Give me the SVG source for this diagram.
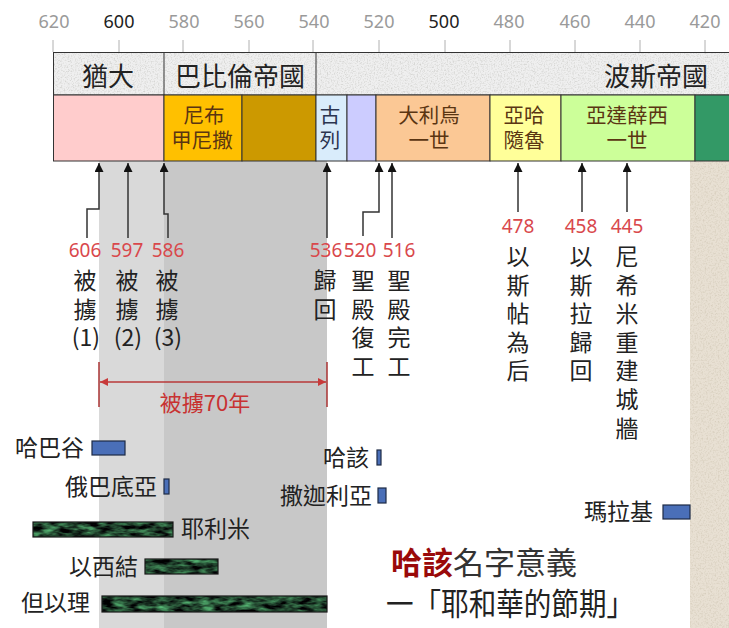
<svg xmlns="http://www.w3.org/2000/svg" width="729" height="628" viewBox="0 0 729 628">
<style>
text{font-family:'Noto Sans CJK TC','Noto Sans',sans-serif;}
.ax{font-family:'Noto Sans',sans-serif;font-size:18px;fill:#9a9a9a;text-anchor:middle;}
.axb{fill:#222;}
.tick{stroke:#b0b0b0;stroke-width:1;}
.h1{font-size:26px;fill:#222;}
.cell{stroke:#333;stroke-width:1;}
.ct{font-size:20.5px;fill:#5a3512;text-anchor:middle;}
.yr{font-family:'Noto Sans',sans-serif;font-size:19px;fill:#d9484c;text-anchor:middle;}
.vt{font-size:23px;fill:#222;text-anchor:middle;}
.lbl{font-size:23px;fill:#222;}
.ln{fill:none;stroke:#333;stroke-width:1.5;}
.blue{fill:#4a6fb8;stroke:#1d2a45;stroke-width:1.2;}
.gbar{stroke:#1a1a1a;stroke-width:1.2;}
</style>
<defs>
<marker id="ah" viewBox="0 0 10 10" refX="10" refY="5" markerUnits="userSpaceOnUse" markerWidth="9" markerHeight="9" orient="auto">
<path d="M0,0 L10,5 L0,10 z" fill="#111"/>
</marker>
<marker id="rh" viewBox="0 0 10 10" refX="10" refY="5" markerUnits="userSpaceOnUse" markerWidth="9" markerHeight="8" orient="auto-start-reverse">
<path d="M0,0 L10,5 L0,10 z" fill="#c83a3a"/>
</marker>
<filter id="speck" x="0" y="0" width="100%" height="100%" color-interpolation-filters="sRGB">
<feTurbulence type="fractalNoise" baseFrequency="0.7" numOctaves="2" seed="4" result="n"/>
<feColorMatrix in="n" type="matrix" values="0 0 0 0 0.72  0 0 0 0 0.72  0 0 0 0 0.70  1.3 0 0 0 -0.6" result="s"/>
<feComposite in="s" in2="SourceGraphic" operator="in" result="s2"/>
<feMerge><feMergeNode in="SourceGraphic"/><feMergeNode in="s2"/></feMerge>
</filter>
<filter id="speckb" x="0" y="0" width="100%" height="100%" color-interpolation-filters="sRGB">
<feTurbulence type="fractalNoise" baseFrequency="0.6" numOctaves="2" seed="9" result="n"/>
<feColorMatrix in="n" type="matrix" values="0 0 0 0 0.78  0 0 0 0 0.74  0 0 0 0 0.66  1.3 0 0 0 -0.6" result="s"/>
<feComposite in="s" in2="SourceGraphic" operator="in" result="s2"/>
<feMerge><feMergeNode in="SourceGraphic"/><feMergeNode in="s2"/></feMerge>
</filter>
<filter id="marble" x="0" y="0" width="100%" height="100%" color-interpolation-filters="sRGB">
<feTurbulence type="fractalNoise" baseFrequency="0.07 0.2" numOctaves="3" seed="7" result="n"/>
<feColorMatrix in="n" type="matrix" values="0.6 0 0 0 -0.17  1.3 0 0 0 -0.38  0.8 0 0 0 -0.22  0 0 0 0 1" result="c"/>
<feComposite in="c" in2="SourceGraphic" operator="in"/>
</filter>
</defs>

<rect x="0" y="0" width="729" height="628" fill="#ffffff"/>

<g id="background-shading">
<rect x="99" y="161" width="65" height="467" fill="#d9d9d9"/>
<rect x="164" y="161" width="163" height="467" fill="#c8c8c8"/>
<rect x="690" y="161" width="39" height="467" fill="#e8e0d3" filter="url(#speckb)"/>
</g>

<g id="axis">
<line class="tick" x1="53" y1="40" x2="53" y2="52"/>
<line class="tick" x1="119" y1="40" x2="119" y2="52"/>
<line class="tick" x1="183" y1="40" x2="183" y2="52"/>
<line class="tick" x1="249" y1="40" x2="249" y2="52"/>
<line class="tick" x1="313" y1="40" x2="313" y2="52"/>
<line class="tick" x1="379" y1="40" x2="379" y2="52"/>
<line class="tick" x1="445" y1="40" x2="445" y2="52"/>
<line class="tick" x1="510" y1="40" x2="510" y2="52"/>
<line class="tick" x1="575" y1="40" x2="575" y2="52"/>
<line class="tick" x1="640" y1="40" x2="640" y2="52"/>
<line class="tick" x1="705" y1="40" x2="705" y2="52"/>
<text class="ax" x="54" y="28">620</text>
<text class="ax axb" x="119" y="28">600</text>
<text class="ax" x="184" y="28">580</text>
<text class="ax" x="249" y="28">560</text>
<text class="ax" x="314" y="28">540</text>
<text class="ax" x="379" y="28">520</text>
<text class="ax axb" x="444" y="28">500</text>
<text class="ax" x="509" y="28">480</text>
<text class="ax" x="575" y="28">460</text>
<text class="ax" x="640" y="28">440</text>
<text class="ax" x="705" y="28">420</text>
</g>

<g id="empires">
<rect x="53.5" y="52.5" width="680" height="42.5" fill="#efefef" filter="url(#speck)"/>
<rect class="cell" x="53.5" y="52.5" width="680" height="42.5" fill="none"/>
<line class="cell" x1="164" y1="52.5" x2="164" y2="95"/>
<line class="cell" x1="316" y1="52.5" x2="316" y2="95"/>
<text class="h1" x="108" y="86" text-anchor="middle">猶大</text>
<text class="h1" x="240" y="86" text-anchor="middle">巴比倫帝國</text>
<text class="h1" x="708" y="86" text-anchor="end">波斯帝國</text>
</g>

<g id="rulers">
<rect class="cell" x="53.5" y="95" width="110.5" height="66" fill="#ffcccc"/>
<rect class="cell" x="164" y="95" width="78" height="66" fill="#ffc000"/>
<rect class="cell" x="242" y="95" width="74" height="66" fill="#cc9900"/>
<rect class="cell" x="316" y="95" width="31" height="66" fill="#d9ecfb"/>
<rect class="cell" x="347" y="95" width="29" height="66" fill="#ccccff"/>
<rect class="cell" x="376" y="95" width="114" height="66" fill="#fbc895"/>
<rect class="cell" x="490" y="95" width="71" height="66" fill="#ffff99"/>
<rect class="cell" x="561" y="95" width="134" height="66" fill="#ccff99"/>
<rect class="cell" x="695" y="95" width="40" height="66" fill="#339966"/>
<text class="ct" x="204" y="123">尼布<tspan x="202" y="148">甲尼撒</tspan></text>
<text class="ct" x="330" y="123" style="fill:#2b3550">古<tspan x="330" y="148">列</tspan></text>
<text class="ct" x="429" y="123">大利烏<tspan x="429" y="148">一世</tspan></text>
<text class="ct" x="524" y="123">亞哈<tspan x="524" y="148">隨魯</tspan></text>
<text class="ct" x="627" y="123">亞達薛西<tspan x="627" y="148">一世</tspan></text>
</g>

<g id="connectors">
<path class="ln" d="M87,238 V209 H99 V163" marker-end="url(#ah)"/>
<path class="ln" d="M128,238 V163" marker-end="url(#ah)"/>
<path class="ln" d="M168,238 V214 H164 V163" marker-end="url(#ah)"/>
<path class="ln" d="M327,238 V163" marker-end="url(#ah)"/>
<path class="ln" d="M363,236 V212 H379 V163" marker-end="url(#ah)"/>
<path class="ln" d="M392,238 V163" marker-end="url(#ah)"/>
<path class="ln" d="M518,212 V163" marker-end="url(#ah)"/>
<path class="ln" d="M582,212 V163" marker-end="url(#ah)"/>
<path class="ln" d="M627,212 V163" marker-end="url(#ah)"/>
</g>

<g id="event-606">
<text class="yr" x="85" y="257">606</text>
<text class="vt" x="85" y="289">被<tspan x="85" dy="28.6">擄</tspan><tspan x="86" dy="28.6">(1)</tspan></text>
</g>
<g id="event-597">
<text class="yr" x="127" y="257">597</text>
<text class="vt" x="127" y="289">被<tspan x="127" dy="28.6">擄</tspan><tspan x="128" dy="28.6">(2)</tspan></text>
</g>
<g id="event-586">
<text class="yr" x="168" y="257">586</text>
<text class="vt" x="167" y="289">被<tspan x="167" dy="28.6">擄</tspan><tspan x="168" dy="28.6">(3)</tspan></text>
</g>
<g id="event-536">
<text class="yr" x="326" y="257">536</text>
<text class="vt" x="325" y="289">歸<tspan x="325" dy="28.6">回</tspan></text>
</g>
<g id="event-520">
<text class="yr" x="360" y="257">520</text>
<text class="vt" x="363" y="289">聖<tspan x="363" dy="28.6">殿</tspan><tspan x="363" dy="28.6">復</tspan><tspan x="363" dy="28.6">工</tspan></text>
</g>
<g id="event-516">
<text class="yr" x="399" y="257">516</text>
<text class="vt" x="399" y="289">聖<tspan x="399" dy="28.6">殿</tspan><tspan x="399" dy="28.6">完</tspan><tspan x="399" dy="28.6">工</tspan></text>
</g>
<g id="event-478">
<text class="yr" x="518" y="233">478</text>
<text class="vt" x="518" y="265">以<tspan x="518" dy="28.6">斯</tspan><tspan x="518" dy="28.6">帖</tspan><tspan x="518" dy="28.6">為</tspan><tspan x="518" dy="28.6">后</tspan></text>
</g>
<g id="event-458">
<text class="yr" x="581" y="233">458</text>
<text class="vt" x="581" y="265">以<tspan x="581" dy="28.6">斯</tspan><tspan x="581" dy="28.6">拉</tspan><tspan x="581" dy="28.6">歸</tspan><tspan x="581" dy="28.6">回</tspan></text>
</g>
<g id="event-445">
<text class="yr" x="627" y="233">445</text>
<text class="vt" x="627" y="265">尼<tspan x="627" dy="28.6">希</tspan><tspan x="627" dy="28.6">米</tspan><tspan x="627" dy="28.6">重</tspan><tspan x="627" dy="28.6">建</tspan><tspan x="627" dy="28.6">城</tspan><tspan x="627" dy="28.6">牆</tspan></text>
</g>

<g id="exile-70">
<line x1="99" y1="362" x2="99" y2="407" stroke="#a83232" stroke-width="1.5"/>
<line x1="327" y1="362" x2="327" y2="407" stroke="#a83232" stroke-width="1.5"/>
<line x1="100" y1="382" x2="326" y2="382" stroke="#b83838" stroke-width="1.5" marker-start="url(#rh)" marker-end="url(#rh)"/>
<text x="205" y="411" text-anchor="middle" font-size="22" fill="#c83232">被擄70年</text>
</g>

<g id="prophet-habakkuk">
<text class="lbl" x="84" y="456" text-anchor="end">哈巴谷</text>
<rect class="blue" x="92" y="441" width="33" height="14"/>
</g>
<g id="prophet-obadiah">
<text class="lbl" x="157" y="495" text-anchor="end">俄巴底亞</text>
<rect class="blue" x="164" y="479" width="5" height="15"/>
</g>
<g id="prophet-jeremiah">
<rect x="33" y="522" width="140" height="15" fill="#2a6a3c" filter="url(#marble)"/>
<rect class="gbar" x="33" y="522" width="140" height="15" fill="none"/>
<text class="lbl" x="181" y="537">耶利米</text>
</g>
<g id="prophet-ezekiel">
<text class="lbl" x="138" y="575" text-anchor="end">以西結</text>
<rect x="145" y="559" width="73" height="15" fill="#2a6a3c" filter="url(#marble)"/>
<rect class="gbar" x="145" y="559" width="73" height="15" fill="none"/>
</g>
<g id="prophet-daniel">
<text class="lbl" x="21" y="611">但以理</text>
<rect x="102" y="596" width="225" height="16" fill="#2a6a3c" filter="url(#marble)"/>
<rect class="gbar" x="102" y="596" width="225" height="16" fill="none"/>
</g>
<g id="prophet-haggai">
<text class="lbl" x="369" y="466" text-anchor="end">哈該</text>
<rect class="blue" x="377" y="450" width="4" height="15"/>
</g>
<g id="prophet-zechariah">
<text class="lbl" x="372" y="504" text-anchor="end">撒迦利亞</text>
<rect class="blue" x="378" y="488" width="8" height="15"/>
</g>
<g id="prophet-malachi">
<text class="lbl" x="653" y="520" text-anchor="end">瑪拉基</text>
<rect class="blue" x="663" y="505" width="27" height="14"/>
</g>

<g id="note">
<text x="391" y="574" font-size="31" fill="#333"><tspan fill="#9a0a0a" font-weight="bold">哈該</tspan>名字意義</text>
<text x="386" y="615" font-size="31" fill="#222" textLength="248" lengthAdjust="spacingAndGlyphs">一「耶和華的節期」</text>
</g>
</svg>
